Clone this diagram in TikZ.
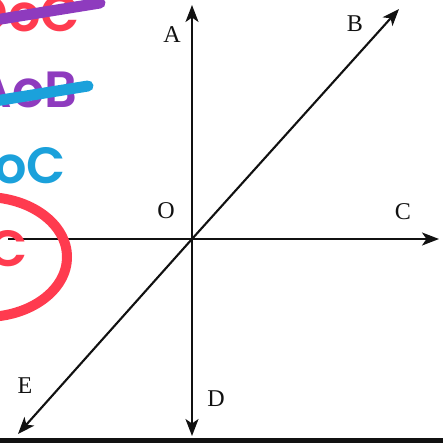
\documentclass[tikz,border=0pt]{standalone}
\usepackage{fontspec}
\setmainfont{Liberation Serif}
\newfontfamily\handfont{Poppins}[BoldFont={* SemiBold}]
\usepackage{xcolor}
\usepackage{tikz}
\usetikzlibrary{arrows.meta}
\definecolor{Ink}{HTML}{111111}
\definecolor{PenRed}{HTML}{FF3B4F}
\definecolor{PenPurple}{HTML}{8E3BBE}
\definecolor{PenCyan}{HTML}{1BA1DB}
\tikzset{
  ray/.style={draw=Ink,line width=1.2pt,-{Stealth[length=3.4mm,width=2.6mm,inset=0.9mm]}},
  stub/.style={draw=Ink,line width=1.2pt},
  lbl/.style={font=\fontsize{13.7}{16}\selectfont,text=Ink,inner sep=0pt},
  scrawl/.style={font=\handfont\bfseries\fontsize{29}{32}\selectfont,inner sep=0pt,anchor=east},
  strike/.style={line width=2.2mm,line cap=round},
  loop/.style={draw=PenRed,line width=2mm}
}

\begin{document}
\begin{tikzpicture}[x=0.02cm,y=-0.02cm]
  \useasboundingbox (0,0) rectangle (443,443);
  \clip (0,0) rectangle (443,443);
  % rays out of O
  \coordinate (O) at (192,239);
  \coordinate (tipA) at (192,5);
  \coordinate (tipB) at (399,9);
  \coordinate (tipC) at (439,239);
  \coordinate (tipD) at (192,436);
  \coordinate (tipE) at (18,434);
  \coordinate (west) at (8,239);
  \draw[ray] (O) -- (tipA);
  \draw[ray] (O) -- (tipB);
  \draw[ray] (O) -- (tipC);
  \draw[ray] (O) -- (tipD);
  \draw[ray] (O) -- (tipE);
  \draw[stub] (O) -- (west);
  \node[lbl] (labA) at (172,35) {A};
  \node[lbl] (labB) at (355,24) {B};
  \node[lbl] (labC) at (403,212) {C};
  \node[lbl] (labO) at (166,211) {O};
  \node[lbl] (labD) at (216,399) {D};
  \node[lbl] (labE) at (25,386) {E};
  % bottom rule
  \coordinate (ruleL) at (0,440.5);
  \coordinate (ruleR) at (443,440.5);
  \draw[Ink,line width=2.4pt] (ruleL) -- (ruleR);
  % pen notes on the left
  \node[scrawl,text=PenRed] (noteDOC) at (80,14) {DoC};
  \coordinate (cutDa) at (-5,20);
  \coordinate (cutDb) at (100,3);
  \draw[strike,PenPurple] (cutDa) -- (cutDb);
  \node[scrawl,text=PenPurple] (noteAOB) at (78,90) {AoB};
  \coordinate (cutAa) at (-5,101);
  \coordinate (cutAb) at (88,86);
  \draw[strike,PenCyan] (cutAa) -- (cutAb);
  \node[scrawl,text=PenCyan] (noteBOC) at (66,166) {BoC};
  \node[scrawl,text=PenRed] (noteC) at (28,249) {C};
  \draw[loop] (-15,257) ellipse [x radius=82,y radius=60];
\end{tikzpicture}
\end{document}
